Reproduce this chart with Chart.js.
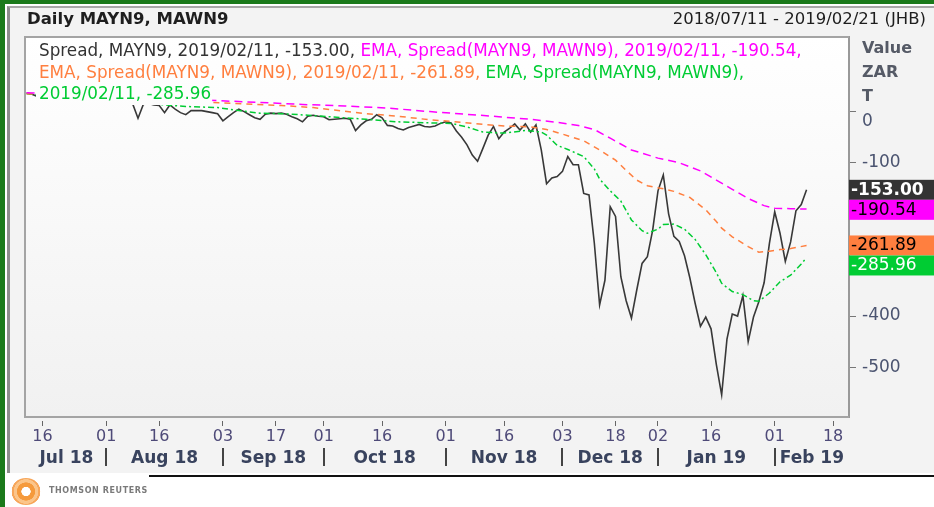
<!DOCTYPE html>
<html>
<head>
<meta charset="utf-8">
<title>Daily MAYN9, MAWN9</title>
<script src="https://cdn.jsdelivr.net/npm/chart.js@4.4.1/dist/chart.umd.min.js"></script>
<style>
  html, body { margin: 0; padding: 0; background: #fff; }
  #wrap { position: relative; width: 934px; height: 507px; overflow: hidden; background: #fff; font-family: "DejaVu Sans", sans-serif; }
  .g-top { position: absolute; left: 0; top: 0; width: 934px; height: 4px; background: #1b7a1b; }
  .g-left { position: absolute; left: 0; top: 0; width: 5px; height: 507px; background: #1b7a1b; }
  .panel { position: absolute; left: 7px; top: 6px; width: 927px; height: 467px; background: #f3f3f3;
           border-left: 3px solid #8c8c8c; border-top: 2px solid #a8a8a8; box-sizing: border-box; }
  .rule { position: absolute; left: 149px; top: 475px; width: 785px; height: 2px; background: #111; }
  .title { position: absolute; left: 27px; top: 9px; font-weight: bold; font-size: 16.5px; color: #1e1e1e; }
  .range { position: absolute; right: 8px; top: 9px; font-size: 16.5px; color: #1e1e1e; }
  .unit { position: absolute; left: 862px; font-weight: bold; font-size: 16px; color: #555a66; }
  .logo { position: absolute; left: 11px; top: 478px; width: 30px; height: 27px; border-radius: 50%;
          background: radial-gradient(circle, #fff 0 22%, #f59a3c 24% 44%, #fbc58a 46% 60%, #f7a65a 62% 70%, transparent 72%); }
  .brand { position: absolute; left: 49px; top: 486px; font-size: 8px; font-weight: bold; letter-spacing: 0.6px; color: #7a7a7a; }
  canvas { position: absolute; left: 0; top: 0; }
</style>
</head>
<body>
<div id="wrap">
  <div class="panel"></div>
  <div class="g-top"></div>
  <div class="g-left"></div>
  <div class="rule"></div>
  <canvas id="chart" width="934" height="507"></canvas>
  <div class="title">Daily MAYN9, MAWN9</div>
  <div class="range">2018/07/11 - 2019/02/21 (JHB)</div>
  <div class="unit" style="top:38px">Value</div>
  <div class="unit" style="top:62px">ZAR</div>
  <div class="unit" style="top:86px">T</div>
  <div class="logo"></div>
  <div class="brand">THOMSON REUTERS</div>
</div>
<script>
// trading-day index 0 = 2018/07/11, last point 147 = 2019/02/11, axis runs to 155 = 2019/02/21
const SPREAD = [
  37, 34, 30, 33, 28, 26, 30, 27, 24, 28, 25, 22, 26, 23, 20, 24, 21, 18, 22, 19,
  15, -13, 14, 16, 13, 12, -2, 13, 5, -2, -6, 2, 2, 2, 0, -2, -4, -18, -10, -2,
  5, 0, -6, -12, -15, -5, -3, -4, -3, -5, -10, -14, -20, -9, -7, -9, -10, -16, -15, -14,
  -13, -15, -37, -26, -18, -15, -6, -12, -27, -28, -33, -36, -31, -28, -25, -29, -30, -28, -23, -20,
  -22, -38, -50, -65, -85, -97, -72, -46, -29, -53, -40, -33, -24, -36, -24, -40, -26, -75, -141, -130,
  -127, -117, -88, -104, -104, -160, -163, -257, -378, -330, -186, -205, -323, -370, -404, -349, -297, -284, -232, -155,
  -124, -200, -244, -254, -282, -325, -375, -420, -402, -425, -495, -554, -445, -396, -400, -360, -450, -402, -372, -335,
  -258, -196, -238, -293, -255, -194, -182, -153
];

// EMA lines as [trading-day index, value]
const EMA_SLOW = [[0,37],[10,33],[20,28],[30,24],[36,21.5],[44,18],[52,14],[60,11],[68,7],[76,0],[84,-6],[89,-10],
  [95,-15],[100,-21],[104,-27],[107,-35],[110,-52],[114,-75],[119,-91],[123,-100],[127,-116],[130,-134],[133,-152],
  [136,-170],[139,-184],[141,-189],[144,-190],[147,-190.54]];
const EMA_MID = [[0,35],[10,29],[20,24],[30,20],[39,16],[48,12],[54,8],[58,3],[64,-4],[70,-9],[76,-16],[80,-19],
  [86,-25],[90,-28],[95,-30],[98,-35],[101,-44],[105,-57],[108,-75],[111,-95],[113,-115],[115,-134],[117,-145],
  [120,-151],[122,-156],[125,-168],[128,-192],[130,-215],[131,-228],[133,-245],[136,-264],[138,-275],[140,-273],
  [142,-270],[144,-268],[147,-261.89]];
const EMA_FAST = [[0,35],[8,28],[16,22],[24,15],[30,10],[36,8],[40,2],[44,-3],[48,-4],[53,-7],[57,-10],[64,-15],
  [70,-20],[76,-22],[80,-23],[83,-30],[86,-40],[90,-42],[94,-37],[97,-40],[98,-46],[100,-66],[102,-74],[105,-88],
  [107,-112],[108,-132],[110,-155],[112,-175],[114,-212],[116,-233],[117,-238],[119,-230],[120,-221],[122,-220],
  [124,-230],[126,-250],[128,-280],[130,-315],[131,-336],[133,-352],[135,-358],[137,-370],[138,-371],[140,-355],
  [142,-333],[144,-320],[146,-298],[147,-285.96]];

const DAY_TICKS = [3, 15, 25, 37, 47, 56, 67, 79, 90, 101, 111, 119, 129, 141, 152];
const DAY_LABELS = ['16', '01', '16', '03', '17', '01', '16', '01', '16', '03', '18', '02', '16', '01', '18'];
const MONTHS = ['Jul 18', 'Aug 18', 'Sep 18', 'Oct 18', 'Nov 18', 'Dec 18', 'Jan 19', 'Feb 19'];
const MONTH_START = [0, 15, 37, 56, 79, 101, 119, 141];
const AXIS_END = 155;
const Y_TICKS = [0, -100, -200, -300, -400, -500];

const C_SPREAD = '#383838', C_SLOW = '#ff00ff', C_MID = '#ff7f3f', C_FAST = '#00cc33';
const FONT = '"DejaVu Sans", sans-serif';

const LEGEND = [
  [['Spread, MAYN9, 2019/02/11, ' + SPREAD[SPREAD.length - 1].toFixed(2) + ', ', '#333'],
   ['EMA, Spread(MAYN9, MAWN9), 2019/02/11, ' + EMA_SLOW[EMA_SLOW.length - 1][1].toFixed(2) + ',', C_SLOW]],
  [['EMA, Spread(MAYN9, MAWN9), 2019/02/11, ' + EMA_MID[EMA_MID.length - 1][1].toFixed(2) + ', ', C_MID],
   ['EMA, Spread(MAYN9, MAWN9),', C_FAST]],
  [['2019/02/11, ' + EMA_FAST[EMA_FAST.length - 1][1].toFixed(2), C_FAST]]
];

const BOXES = [
  { value: SPREAD[SPREAD.length - 1], bg: '#333333', fg: '#ffffff', bold: true },
  { value: EMA_SLOW[EMA_SLOW.length - 1][1], bg: C_SLOW, fg: '#000000' },
  { value: EMA_MID[EMA_MID.length - 1][1], bg: C_MID, fg: '#000000' },
  { value: EMA_FAST[EMA_FAST.length - 1][1], bg: '#00cc33', fg: '#ffffff' }
];

Chart.defaults.font.family = FONT;

const monthCenters = MONTH_START.map((s, i) => (s + (i < MONTH_START.length - 1 ? MONTH_START[i + 1] : AXIS_END)) / 2);

// ── plot background, frame, month separators, legend and value boxes ──
const decor = {
  id: 'decor',
  beforeDraw(chart) {
    const { ctx, chartArea: a } = chart;
    const g = ctx.createLinearGradient(0, a.top, 0, a.bottom);
    g.addColorStop(0, '#ffffff');
    g.addColorStop(1, '#f1f1f1');
    chart.$bg = g;
    ctx.save();
    ctx.fillStyle = g;
    ctx.fillRect(a.left, a.top, a.right - a.left, a.bottom - a.top);
    ctx.restore();
  },
  afterDraw(chart) {
    const { ctx, chartArea: a } = chart;
    const xs = chart.scales.x, ys = chart.scales.y;
    ctx.save();

    // box
    ctx.strokeStyle = '#a4a4a4';
    ctx.lineWidth = 2;
    ctx.beginPath();
    ctx.moveTo(a.right, a.top); ctx.lineTo(a.left, a.top); ctx.lineTo(a.left, a.bottom); ctx.lineTo(a.right, a.bottom);
    ctx.stroke();

    // month separators
    ctx.strokeStyle = '#444';
    ctx.lineWidth = 2;
    MONTH_START.slice(1).forEach(s => {
      const x = Math.round(xs.getPixelForValue(s));
      ctx.beginPath(); ctx.moveTo(x, a.bottom + 31); ctx.lineTo(x, a.bottom + 49); ctx.stroke();
    });

    // legend text with its own backing
    ctx.font = '16.8px ' + FONT;
    ctx.textBaseline = 'middle';
    const lineY = [a.top + 15, a.top + 37, a.top + 58];
    LEGEND.forEach((parts, i) => {
      let x = a.left + 14;
      const w = parts.reduce((s, p) => s + ctx.measureText(p[0]).width, 0);
      ctx.fillStyle = chart.$bg;
      ctx.fillRect(x - 3, lineY[i] - 10, w + 4, 20);
      parts.forEach(p => {
        ctx.fillStyle = p[1];
        ctx.fillText(p[0], x, lineY[i]);
        x += ctx.measureText(p[0]).width;
      });
    });

    // last-value boxes on the right axis
    let prevBottom = -Infinity;
    BOXES.forEach(b => {
      const top = Math.max(ys.getPixelForValue(b.value) - 10, prevBottom);
      ctx.fillStyle = b.bg;
      ctx.fillRect(ys.left, top, chart.width - ys.left, 20);
      ctx.fillStyle = b.fg;
      ctx.font = (b.bold ? 'bold ' : '') + '17px ' + FONT;
      ctx.fillText(b.value.toFixed(2), ys.left + 2, top + 10.5);
      prevBottom = top + 20;
    });
    ctx.restore();
  }
};

const pts = arr => arr.map((v, i) => ({ x: i, y: v }));
const pairs = arr => arr.map(p => ({ x: p[0], y: p[1] }));

new Chart(document.getElementById('chart'), {
  type: 'line',
  data: {
    datasets: [
      { label: 'EMA slow', data: pairs(EMA_SLOW), borderColor: C_SLOW, borderWidth: 1.5, borderDash: [8, 5], pointRadius: 0 },
      { label: 'EMA mid', data: pairs(EMA_MID), borderColor: C_MID, borderWidth: 1.5, borderDash: [6, 5], pointRadius: 0 },
      { label: 'EMA fast', data: pairs(EMA_FAST), borderColor: C_FAST, borderWidth: 1.5, borderDash: [6, 3, 2, 3], pointRadius: 0 },
      { label: 'Spread', data: pts(SPREAD), borderColor: C_SPREAD, borderWidth: 1.6, pointRadius: 0 }
    ]
  },
  options: {
    responsive: false, animation: false, devicePixelRatio: 1,
    layout: { padding: { left: 25, top: 37, right: 0, bottom: 38 } },
    plugins: { legend: { display: false }, tooltip: { enabled: false } },
    scales: {
      x: {
        type: 'linear', position: 'bottom', min: -0.3, max: AXIS_END,
        afterBuildTicks: s => { s.ticks = DAY_TICKS.map(v => ({ value: v })); },
        afterFit: s => { s.height = 28; },
        ticks: { autoSkip: false, maxRotation: 0, padding: 1, color: '#4e4a78', font: { size: 16 },
                 callback: v => DAY_LABELS[DAY_TICKS.indexOf(v)] },
        grid: { drawOnChartArea: false, tickLength: 9, tickColor: '#666', tickBorderDash: [0, 4, 5] },
        border: { display: false }
      },
      x2: {
        type: 'linear', position: 'bottom', weight: 1, min: -0.3, max: AXIS_END,
        afterBuildTicks: s => { s.ticks = monthCenters.map(v => ({ value: v })); },
        afterFit: s => { s.height = 24; },
        ticks: { autoSkip: false, maxRotation: 0, padding: 3, color: '#39435e', font: { size: 17, weight: 'bold' },
                 callback: v => MONTHS[monthCenters.indexOf(v)] },
        grid: { display: false, drawTicks: false },
        border: { display: false }
      },
      y: {
        type: 'linear', position: 'right', min: -597.5, max: 146,
        afterBuildTicks: s => { s.ticks = Y_TICKS.map(v => ({ value: v })); },
        afterFit: s => { s.width = 85; },
        // the zero label sits a line lower, under the "T" unit caption
        ticks: { padding: 6, color: '#4b5470', font: { size: 17 }, callback: v => (v === 0 ? ['', '0'] : String(v)) },
        grid: { drawOnChartArea: false, tickLength: 7, tickColor: '#777' },
        border: { display: true, color: '#999', width: 2 }
      }
    }
  },
  plugins: [decor]
});
</script>
</body>
</html>
